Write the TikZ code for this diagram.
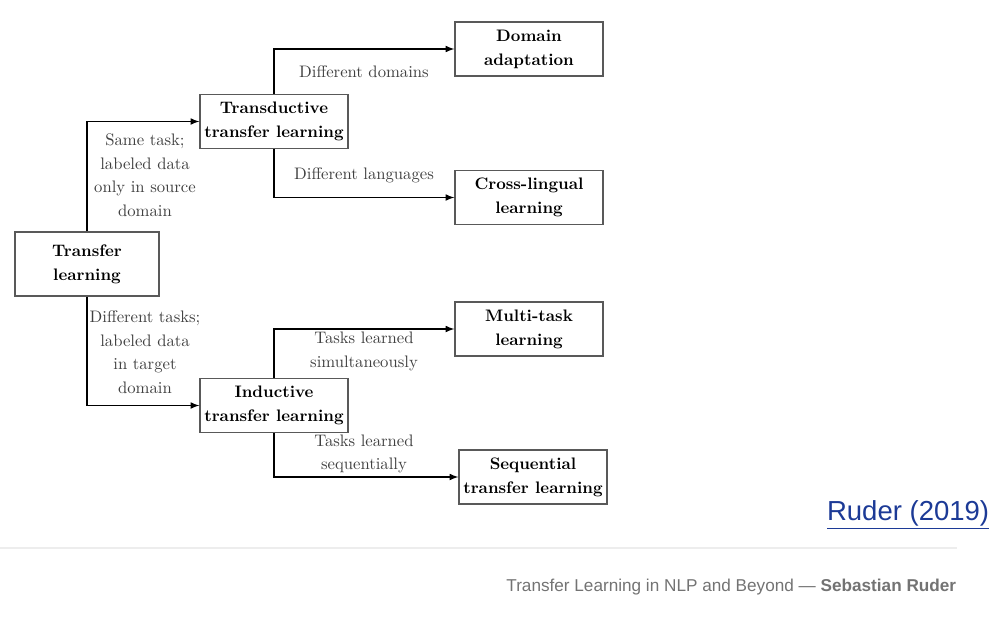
\documentclass[tikz,border=0pt]{standalone}
\usepackage{fontspec}
\newfontfamily\slidefont{Liberation Sans}
\usepackage{tikz}
\usetikzlibrary{arrows}
\definecolor{refblue}{RGB}{28,58,150}
\tikzset{b/.style={draw=black!65, thick, align=center, font=\bfseries\fontsize{10}{14.4}\selectfont, minimum width=88.8pt, minimum height=32.4pt, inner sep=2pt}}
\tikzset{l/.style={align=center, text=black!75, font=\fontsize{10}{14.1}\selectfont, inner sep=1pt}}

\begin{document}
\begin{tikzpicture}[x=0.6pt,y=-0.6pt]
        \useasboundingbox (0,0) rectangle (1000,617);
        \begin{scope}[thick]
          \node [b, minimum width=86.4pt, minimum height=38.4pt] (T) at (87,264) {Transfer\\learning};
          \node [b] (TD) at (274,121.5) {Transductive\\transfer learning};
          \node [b] (IN) at (274,405.5) {Inductive\\transfer learning};
          \node [b] (DA) at (529,49) {Domain\\adaptation};
          \node [b] (CL) at (529,197.5) {Cross-lingual\\learning};
          \node [b] (MT) at (529,329) {Multi-task\\learning};
          \node [b] (SQ) at (533,477) {Sequential\\transfer learning};
          \draw [-latex] (T.north) |- (TD.west);
          \draw [-latex] (T.south) |- (IN.west);
          \draw [-latex] (TD.north) |- (DA.west);
          \draw [-latex] (TD.south) |- (CL.west);
          \draw [-latex] (IN.north) |- (MT.west);
          \draw [-latex] (IN.south) |- (SQ.west);
          \node [l] (st) at (145,175) {Same task;\\labeled data\\only in source\\domain};
          \node [l] (dt) at (145,352) {Different tasks;\\labeled data\\in target\\domain};
          \node [l] (dd) at (364,72) {Different domains};
          \node [l] (dl) at (364,175) {Different languages};
          \node [l] (ts) at (364,351.5) {Tasks learned\\simultaneously};
          \node [l] (tq) at (364,454) {Tasks learned\\sequentially};
        \end{scope}
        \draw [black!7, line width=1.2pt] (0,548) -- (957,548);
        \node [anchor=base east, text=refblue, font=\slidefont\fontsize{16.5}{18}\selectfont] (rf) at (995,520) {\underline{Ruder (2019)}};
        \node [anchor=base east, text=black!55, font=\slidefont\fontsize{10.3}{12}\selectfont] (ft) at (962,591) {Transfer Learning in NLP and Beyond — \textbf{Sebastian Ruder}};
      \end{tikzpicture}
\end{document}
